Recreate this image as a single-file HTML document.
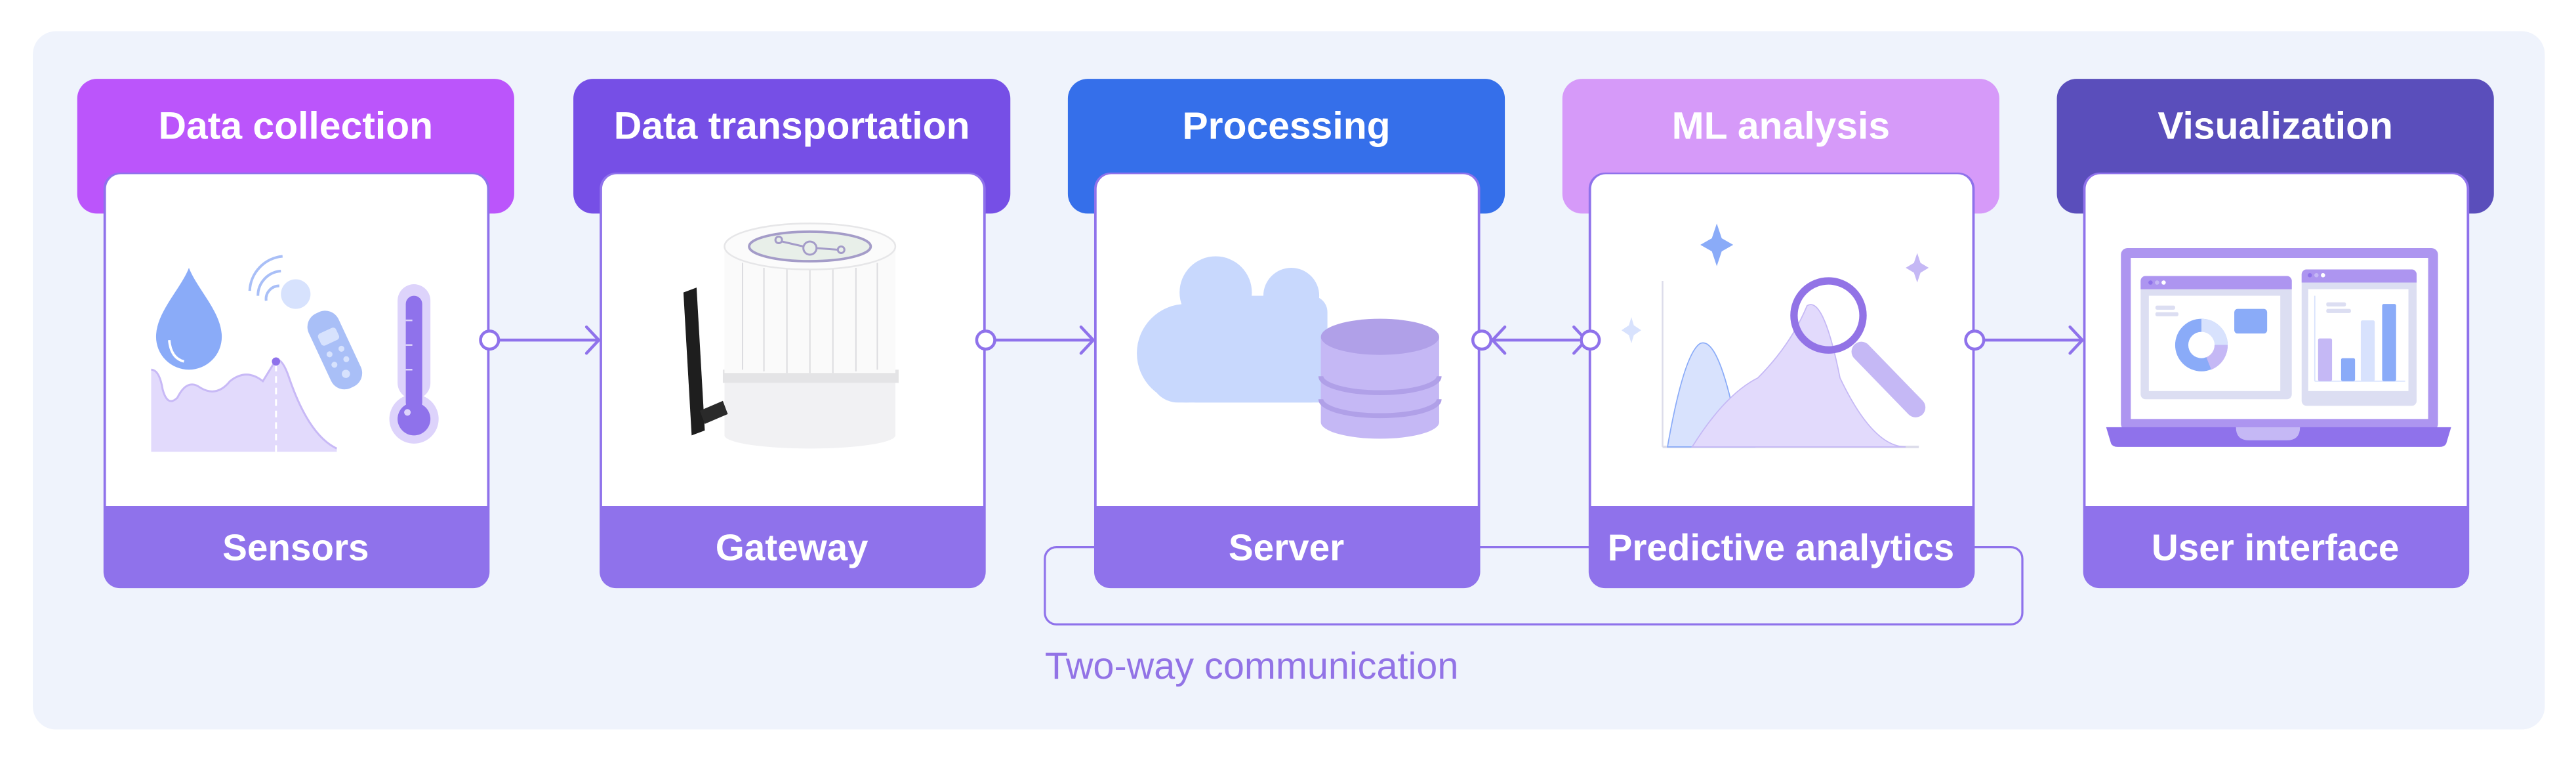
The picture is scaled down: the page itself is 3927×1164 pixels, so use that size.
<!DOCTYPE html>
<html><head><meta charset="utf-8"><style>
html,body{margin:0;padding:0;background:#fff;}
svg{display:block;}
text{font-family:"Liberation Sans",Arial,sans-serif;}
</style></head><body>
<svg width="3927" height="1164" viewBox="0 0 1568 465" preserveAspectRatio="none" xmlns="http://www.w3.org/2000/svg">
<rect x="0" y="0" width="1568" height="465" fill="#fff"/>
<rect x="20" y="19" width="1529" height="425" rx="14" fill="#eff3fc"/>

<!-- bracket -->
<rect x="636" y="333" width="595" height="47" rx="7" fill="none" stroke="#8f72eb" stroke-width="1.3"/>
<text x="636" y="413" font-size="23" fill="#9273e6">Two-way communication</text>

<!-- headers -->
<g font-size="23.5" font-weight="bold" fill="#fff" text-anchor="middle">
<rect x="47" y="48" width="266" height="82" rx="12" fill="#bb55fb"/>
<text x="180" y="84.5">Data collection</text>
<rect x="349" y="48" width="266" height="82" rx="12" fill="#764fe6"/>
<text x="482" y="84.5">Data transportation</text>
<rect x="650" y="48" width="266" height="82" rx="12" fill="#356fea"/>
<text x="783" y="84.5">Processing</text>
<rect x="951" y="48" width="266" height="82" rx="12" fill="#d69af9"/>
<text x="1084" y="84.5">ML analysis</text>
<rect x="1252" y="48" width="266" height="82" rx="12" fill="#5a4ebb"/>
<text x="1385" y="84.5">Visualization</text>
</g>

<!-- cards -->
<g>
<rect x="63" y="105" width="235" height="253" rx="10" fill="#8f72eb"/>
<path d="M64.5 308 V115 a9 9 0 0 1 9 -9 H287.5 a9 9 0 0 1 9 9 V308 Z" fill="#fff"/>
<rect x="365" y="105" width="235" height="253" rx="10" fill="#8f72eb"/>
<path d="M366.5 308 V115 a9 9 0 0 1 9 -9 H589.5 a9 9 0 0 1 9 9 V308 Z" fill="#fff"/>
<rect x="666" y="105" width="235" height="253" rx="10" fill="#8f72eb"/>
<path d="M667.5 308 V115 a9 9 0 0 1 9 -9 H890.5 a9 9 0 0 1 9 9 V308 Z" fill="#fff"/>
<rect x="967" y="105" width="235" height="253" rx="10" fill="#8f72eb"/>
<path d="M968.5 308 V115 a9 9 0 0 1 9 -9 H1191.5 a9 9 0 0 1 9 9 V308 Z" fill="#fff"/>
<rect x="1268" y="105" width="235" height="253" rx="10" fill="#8f72eb"/>
<path d="M1269.5 308 V115 a9 9 0 0 1 9 -9 H1492.5 a9 9 0 0 1 9 9 V308 Z" fill="#fff"/>
</g>
<g font-size="22.6" font-weight="bold" fill="#fff" text-anchor="middle">
<text x="180" y="341">Sensors</text>
<text x="482" y="341">Gateway</text>
<text x="783" y="341">Server</text>
<text x="1084" y="341">Predictive analytics</text>
<text x="1385" y="341">User interface</text>
</g>

<!-- connectors -->
<g stroke="#8f72eb" stroke-width="1.8" fill="none" stroke-linecap="round">
<line x1="304" y1="207" x2="364" y2="207"/><path d="M357 199 L364.5 207 L357 215"/>
<circle cx="298" cy="207" r="5.5" fill="#fff"/>
<line x1="606" y1="207" x2="665" y2="207"/><path d="M658 199 L665.5 207 L658 215"/>
<circle cx="600" cy="207" r="5.5" fill="#fff"/>
<line x1="907" y1="207" x2="961" y2="207"/>
<path d="M916 199 L908.5 207 L916 215"/><path d="M958 199 L965.5 207 L958 215"/>
<circle cx="902" cy="207" r="5.5" fill="#fff"/>
<circle cx="968" cy="207" r="5.5" fill="#fff"/>
<line x1="1208" y1="207" x2="1267" y2="207"/><path d="M1260 199 L1267.5 207 L1260 215"/>
<circle cx="1202" cy="207" r="5.5" fill="#fff"/>
</g>

<!-- card1 illustration -->
<path d="M92 225 Q97 225 99 237 Q102 248 108 242 Q114 230 122 236 Q132 242 140 232 Q150 224 160 232 L168 219 Q172 218 176 230 Q188 265 205 273 L205 275 L92 275 Z" fill="#e2dafc"/>
<path d="M92 225 Q97 225 99 237 Q102 248 108 242 Q114 230 122 236 Q132 242 140 232 Q150 224 160 232 L168 219 Q172 218 176 230 Q188 265 205 273" fill="none" stroke="#c8b9f6" stroke-width="1.2"/>
<line x1="168" y1="222" x2="168" y2="275" stroke="#fff" stroke-width="1.2" stroke-dasharray="4 3"/>
<circle cx="168" cy="220" r="2.5" fill="#8f72eb"/>
<path d="M115 163 C110 176 95 190 95 205 A20 20 0 0 0 135 205 C135 190 120 176 115 163 Z" fill="#8aabf8"/>
<path d="M103 207 Q104 218 112 220" fill="none" stroke="#fff" stroke-width="1.5"/>
<g stroke="#a9bff7" stroke-width="1.6" fill="none">
<path d="M152 177 A22 22 0 0 1 172 156"/><path d="M157 180 A15 15 0 0 1 171 165"/><path d="M162 183 A8 8 0 0 1 170 174"/>
</g>
<circle cx="180" cy="179" r="9" fill="#d7e2fd"/>
<g transform="rotate(-25 205 218)">
<rect x="196" y="188" width="20" height="50" rx="9" fill="#a9bff7"/>
<rect x="200" y="200" width="12" height="8" rx="2" fill="#d7e2fd"/>
<circle cx="202" cy="214" r="1.8" fill="#d7e2fd"/><circle cx="210" cy="214" r="1.8" fill="#d7e2fd"/>
<circle cx="202" cy="221" r="1.8" fill="#d7e2fd"/><circle cx="210" cy="221" r="1.8" fill="#d7e2fd"/>
<circle cx="206" cy="229" r="2.5" fill="#d7e2fd"/>
</g>
<rect x="242" y="173" width="20" height="70" rx="10" fill="#ddd3fb"/>
<circle cx="252" cy="255" r="15" fill="#ddd3fb"/>
<rect x="247" y="180" width="10" height="70" rx="5" fill="#8f72eb"/>
<circle cx="252" cy="255" r="10" fill="#8f72eb"/>
<circle cx="248" cy="251" r="2" fill="#ddd3fb"/>
<g stroke="#ddd3fb" stroke-width="1"><line x1="247" y1="195" x2="251" y2="195"/><line x1="247" y1="210" x2="251" y2="210"/><line x1="247" y1="225" x2="251" y2="225"/></g>

<!-- card2 gateway -->
<path d="M441 150 V265 A52 8 0 0 0 545 265 V150 Z" fill="#f1f1f3"/>
<rect x="440" y="225" width="107" height="8" fill="#e4e4e6"/>
<rect x="441" y="152" width="104" height="75" fill="#fafafa"/>
<g stroke="#dcdcdf" stroke-width="0.8">
<line x1="452" y1="160" x2="452" y2="225"/><line x1="465" y1="163" x2="465" y2="226"/><line x1="479" y1="164" x2="479" y2="227"/><line x1="493" y1="164" x2="493" y2="227"/><line x1="507" y1="164" x2="507" y2="227"/><line x1="521" y1="163" x2="521" y2="226"/><line x1="534" y1="160" x2="534" y2="225"/>
</g>
<ellipse cx="493" cy="150" rx="52" ry="14" fill="#fbfbfb" stroke="#e6e6e8" stroke-width="1"/>
<ellipse cx="493" cy="150" rx="37" ry="9" fill="#e8efe9" stroke="#a49cc8" stroke-width="1.5"/>
<g stroke="#a49cc8" stroke-width="1.2" fill="none"><circle cx="474" cy="146" r="2"/><circle cx="493" cy="151" r="4"/><circle cx="512" cy="152" r="2"/><line x1="476" y1="147" x2="489" y2="150"/><line x1="497" y1="151" x2="510" y2="152"/></g>
<path d="M416 178 L424 175 L429 262 L421 265 Z" fill="#1e1e1e"/>
<path d="M426 250 L440 244 L443 252 L429 258 Z" fill="#2a2a2a"/>

<!-- card3 cloud + db -->
<g fill="#c8d8fd">
<circle cx="740" cy="178" r="22"/><circle cx="786" cy="180" r="17"/>
<ellipse cx="722" cy="215" rx="30" ry="30"/>
<rect x="718" y="180" width="90" height="65" rx="10"/>
<circle cx="815" cy="217" r="18"/>
<rect x="700" y="210" width="130" height="35" rx="17"/>
</g>
<g>
<rect x="804" y="205" width="72" height="52" fill="#c5b8f5"/>
<ellipse cx="840" cy="257" rx="36" ry="10" fill="#c5b8f5"/>
<path d="M804 229 A36 10 0 0 0 876 229" fill="none" stroke="#b0a0e8" stroke-width="3"/>
<path d="M804 243 A36 10 0 0 0 876 243" fill="none" stroke="#b0a0e8" stroke-width="3"/>
<ellipse cx="840" cy="205" rx="36" ry="11" fill="#b0a0e8"/>
</g>

<!-- card4 ML -->
<line x1="1012" y1="171" x2="1012" y2="272" stroke="#dcdcea" stroke-width="1"/>
<line x1="1012" y1="272" x2="1168" y2="272" stroke="#dcdcea" stroke-width="1.5"/>
<path d="M1015 272 Q1025 215 1035 209 Q1045 205 1055 250 L1068 272 Z" fill="#d8e2fd" stroke="#8aabf8" stroke-width="0.7"/>
<path d="M1030 272 Q1050 240 1070 230 Q1090 210 1100 186 Q1110 180 1120 230 Q1140 272 1160 272 Z" fill="#e2dafc" stroke="#c5b8f5" stroke-width="0.7"/>
<line x1="1133" y1="214" x2="1166" y2="248" stroke="#c5b8f5" stroke-width="12" stroke-linecap="round"/>
<circle cx="1113" cy="192" r="21" fill="none" stroke="#9273e6" stroke-width="4.5"/>
<path d="M1045 136 L1048 145 L1055 149 L1048 153 L1045 162 L1042 153 L1035 149 L1042 145 Z" fill="#8aabf8"/>
<path d="M1167 154 L1169 160 L1174 163 L1169 166 L1167 172 L1165 166 L1160 163 L1165 160 Z" fill="#c5b8f5"/>
<path d="M993 193 L994.5 198 L999 201 L994.5 204 L993 209 L991.5 204 L987 201 L991.5 198 Z" fill="#d8e2fd"/>

<!-- card5 laptop -->
<rect x="1291" y="151" width="193" height="111" rx="4" fill="#ad95f0"/>
<rect x="1297" y="157" width="181" height="98" fill="#fff"/>
<path d="M1282 260 H1492 L1489 270 Q1488 272 1485 272 H1289 Q1286 272 1285 270 Z" fill="#8f72eb"/>
<path d="M1361 260 H1400 Q1400 268 1392 268 H1369 Q1361 268 1361 260 Z" fill="#c5b8f5"/>
<rect x="1303" y="168" width="92" height="75" rx="3" fill="#dcdef2"/>
<path d="M1303 171 a3 3 0 0 1 3 -3 H1392 a3 3 0 0 1 3 3 V176 H1303 Z" fill="#ad95f0"/>
<circle cx="1309" cy="172" r="1.3" fill="#8f72eb"/><circle cx="1313" cy="172" r="1.3" fill="#c5b8f5"/><circle cx="1317" cy="172" r="1.3" fill="#fff"/>
<rect x="1308" y="180" width="80" height="58" fill="#fff"/>
<circle cx="1340" cy="210" r="16" fill="#8aabf8"/>
<path d="M1340 194 A16 16 0 0 1 1356 210 H1340 Z" fill="#d8e2fd"/>
<path d="M1356 210 A16 16 0 0 1 1346 225 L1340 210 Z" fill="#c5b8f5"/>
<circle cx="1340" cy="210" r="8" fill="#fff"/>
<rect x="1360" y="188" width="20" height="15" rx="2" fill="#8aabf8"/>
<rect x="1312" y="186" width="12" height="2.5" rx="1" fill="#dcdef2"/><rect x="1312" y="190" width="14" height="2.5" rx="1" fill="#dcdef2"/>
<rect x="1401" y="164" width="70" height="83" rx="3" fill="#dcdef2"/>
<path d="M1401 167 a3 3 0 0 1 3 -3 H1468 a3 3 0 0 1 3 3 V172 H1401 Z" fill="#ad95f0"/>
<circle cx="1406" cy="167.5" r="1.3" fill="#8f72eb"/><circle cx="1410" cy="167.5" r="1.3" fill="#c5b8f5"/><circle cx="1414" cy="167.5" r="1.3" fill="#fff"/>
<rect x="1405" y="176" width="61" height="62" fill="#fff"/>
<line x1="1409" y1="180" x2="1409" y2="232" stroke="#d8e2fd" stroke-width="0.7"/>
<line x1="1409" y1="232" x2="1464" y2="232" stroke="#d8e2fd" stroke-width="0.7"/>
<rect x="1411" y="206" width="8.5" height="26" rx="1" fill="#c5b8f5"/>
<rect x="1425" y="218" width="8.5" height="14" rx="1" fill="#8aabf8"/>
<rect x="1437" y="195" width="8.5" height="37" rx="1" fill="#d8e2fd"/>
<rect x="1450" y="185" width="8.5" height="47" rx="1" fill="#8aabf8"/>
<rect x="1416" y="184" width="12" height="2.5" rx="1" fill="#dcdef2"/><rect x="1416" y="188" width="15" height="2.5" rx="1" fill="#dcdef2"/>
</svg>
</body></html>
